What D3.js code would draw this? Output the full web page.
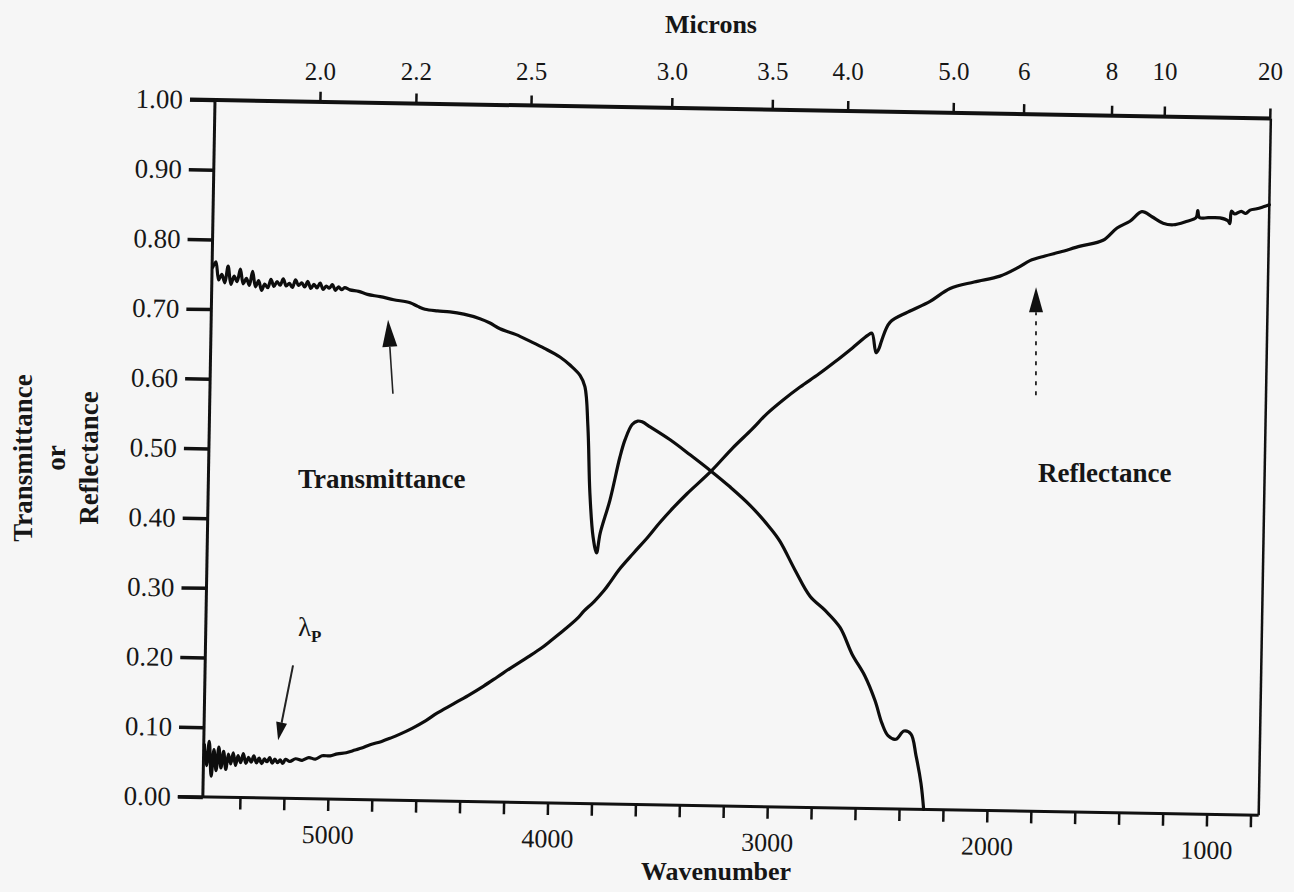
<!DOCTYPE html>
<html>
<head>
<meta charset="utf-8">
<script src="https://cdn.jsdelivr.net/npm/d3@7"></script>
<style>
  body { margin: 0; background: #f6f6f6; }
  text { font-family: "Liberation Serif", "DejaVu Serif", serif; fill: #161616; }
</style>
</head>
<body>
<div id="chart"></div>
<script>
(function () {

// ---- data ----
var yTicks = [0, 0.1, 0.2, 0.3, 0.4, 0.5, 0.6, 0.7, 0.8, 0.9, 1.0];
var wavenumberTicks = [5400, 5200, 5000, 4800, 4600, 4400, 4200, 4000, 3800, 3600, 3400, 3200,
                       3000, 2800, 2600, 2400, 2200, 2000, 1800, 1600, 1400, 1200, 1000, 800];
var wavenumberLabels = [5000, 4000, 3000, 2000, 1000];
var micronTicks = [2.0, 2.2, 2.5, 3.0, 3.5, 4.0, 5.0, 6, 8, 10, 20];
var micronLabels = ["2.0", "2.2", "2.5", "3.0", "3.5", "4.0", "5.0", "6", "8", "10", "20"];

// [wavenumber, value]
var transmittance = [
  [5566, 0.760], [5552, 0.768], [5538, 0.742], [5524, 0.750], [5510, 0.738], [5496, 0.762],
  [5482, 0.736], [5468, 0.748], [5454, 0.740], [5440, 0.758], [5426, 0.737], [5412, 0.745],
  [5398, 0.735], [5384, 0.755], [5370, 0.733], [5356, 0.742], [5342, 0.728], [5328, 0.737],
  [5314, 0.732], [5300, 0.744], [5286, 0.734], [5272, 0.741], [5258, 0.736], [5244, 0.745],
  [5230, 0.735], [5216, 0.739], [5202, 0.733], [5188, 0.744], [5174, 0.736], [5160, 0.740],
  [5146, 0.734], [5132, 0.742], [5118, 0.732], [5104, 0.738], [5090, 0.733], [5076, 0.740],
  [5062, 0.731], [5048, 0.736], [5034, 0.733], [5020, 0.738], [5006, 0.730], [4992, 0.735],
  [4978, 0.731], [4964, 0.734], [4940, 0.731], [4900, 0.729], [4860, 0.725], [4802, 0.722],
  [4740, 0.718], [4665, 0.714], [4630, 0.709], [4597, 0.705], [4540, 0.703], [4483, 0.702],
  [4420, 0.699], [4346, 0.693], [4300, 0.687], [4254, 0.679], [4180, 0.671], [4117, 0.662],
  [4050, 0.652], [3979, 0.640], [3930, 0.628], [3886, 0.614], [3863, 0.598], [3846, 0.540],
  [3832, 0.446], [3814, 0.383], [3797, 0.360], [3782, 0.388], [3740, 0.436], [3698, 0.498],
  [3676, 0.523], [3645, 0.545], [3620, 0.550], [3600, 0.549], [3563, 0.542], [3471, 0.524],
  [3379, 0.503], [3282, 0.480], [3195, 0.458], [3102, 0.432], [3009, 0.400], [2963, 0.381],
  [2892, 0.340], [2822, 0.303], [2752, 0.283], [2683, 0.259], [2626, 0.221], [2566, 0.190],
  [2518, 0.155], [2484, 0.122], [2456, 0.105], [2420, 0.100], [2384, 0.112], [2352, 0.108],
  [2327, 0.077], [2302, 0.037], [2288, 0.0]
];

var reflectance = [
  [5566, 0.075], [5555, 0.045], [5544, 0.080], [5533, 0.030], [5522, 0.068], [5511, 0.038],
  [5500, 0.072], [5489, 0.042], [5478, 0.066], [5467, 0.040], [5456, 0.062], [5445, 0.048],
  [5434, 0.064], [5423, 0.046], [5412, 0.060], [5400, 0.050], [5388, 0.063], [5376, 0.049],
  [5364, 0.058], [5352, 0.051], [5340, 0.060], [5328, 0.050], [5316, 0.057], [5304, 0.049],
  [5292, 0.056], [5280, 0.052], [5268, 0.058], [5256, 0.050], [5244, 0.056], [5232, 0.051],
  [5220, 0.055], [5208, 0.050], [5196, 0.056], [5176, 0.053], [5150, 0.057], [5120, 0.055],
  [5090, 0.059], [5060, 0.057], [5030, 0.062], [4993, 0.062], [4960, 0.065], [4920, 0.067],
  [4880, 0.071], [4850, 0.074], [4812, 0.079], [4760, 0.084], [4720, 0.089], [4677, 0.095],
  [4620, 0.104], [4560, 0.115], [4510, 0.126], [4440, 0.139], [4370, 0.152], [4300, 0.166],
  [4240, 0.179], [4172, 0.194], [4100, 0.209], [4040, 0.222], [3997, 0.233], [3940, 0.248],
  [3880, 0.265], [3850, 0.276], [3804, 0.290], [3760, 0.306], [3733, 0.318], [3694, 0.336],
  [3630, 0.360], [3564, 0.384], [3511, 0.405], [3450, 0.427], [3390, 0.447], [3282, 0.480],
  [3185, 0.514], [3100, 0.541], [3032, 0.564], [2960, 0.584], [2884, 0.603], [2800, 0.622],
  [2727, 0.640], [2650, 0.660], [2579, 0.679], [2561, 0.682], [2541, 0.654], [2528, 0.660],
  [2516, 0.672], [2480, 0.698], [2400, 0.713], [2299, 0.729], [2209, 0.748], [2100, 0.758],
  [1983, 0.767], [1900, 0.780], [1848, 0.790], [1780, 0.797], [1711, 0.803], [1620, 0.812],
  [1517, 0.821], [1454, 0.839], [1396, 0.849], [1342, 0.863], [1296, 0.856], [1245, 0.847],
  [1199, 0.845], [1140, 0.850], [1095, 0.856], [1088, 0.866], [1080, 0.856], [1040, 0.856],
  [987, 0.856], [950, 0.852], [941, 0.848], [935, 0.866], [920, 0.862], [890, 0.866],
  [870, 0.863], [850, 0.868], [820, 0.870], [790, 0.873], [763, 0.876]
];

// annotation arrows, [wavenumber, value] from tail to tip
var arrows = [
  {from: [4736, 0.583], to: [4764, 0.689], head: 27, width: 15, dash: null, w: 1.6},
  {from: [1810, 0.597], to: [1818, 0.752], head: 25, width: 14, dash: "4,6", w: 1.8},
  {from: [5169, 0.191], to: [5231, 0.083], head: 18, width: 11, dash: null, w: 2}
];

var width = 1294, height = 892;

// scanned page sits about one degree off square
var xScale = d3.scaleLinear().domain([5569, 763]).range([215, 1271]),
    topScale = d3.scaleLinear().domain([5497, 495]).range([215, 1271]),
    yScale = d3.scaleLinear().domain([0, 1]).range([797, 100]);

var svg = d3.select("#chart").append("svg")
    .attr("width", width)
    .attr("height", height);

svg.append("rect")
    .attr("width", width)
    .attr("height", height)
    .attr("fill", "#f6f6f6");

var plot = svg.append("g").attr("transform", "rotate(1,215,100)");

var x0 = xScale.range()[0], x1 = xScale.range()[1],
    yTop = yScale(1), yBot = yScale(0);

// frame
plot.append("line").attr("x1", x0 - 25).attr("x2", x1).attr("y1", yTop).attr("y2", yTop)
    .attr("stroke", "#111").attr("stroke-width", 4);
plot.append("line").attr("x1", x0 - 25).attr("x2", x1).attr("y1", yBot).attr("y2", yBot)
    .attr("stroke", "#111").attr("stroke-width", 3);
plot.append("line").attr("x1", x0).attr("x2", x0).attr("y1", yTop).attr("y2", yBot)
    .attr("stroke", "#111").attr("stroke-width", 3);
plot.append("line").attr("x1", x1).attr("x2", x1).attr("y1", yTop).attr("y2", yBot)
    .attr("stroke", "#111").attr("stroke-width", 2.5);

// y axis
var yAxis = plot.append("g")
    .attr("transform", "translate(" + x0 + ",0)")
    .call(d3.axisLeft(yScale).tickValues(yTicks).tickSize(25).tickPadding(7)
      .tickFormat(d3.format(".2f")));
yAxis.select(".domain").remove();
yAxis.selectAll("line").attr("stroke", "#111").attr("stroke-width", 3.5);
yAxis.selectAll("text").attr("font-size", 27).attr("font-family", "Liberation Serif").attr("fill", "#1c1c1c");

// top (microns) tick marks
var topTicks = plot.append("g")
    .attr("transform", "translate(0," + yTop + ")")
    .call(d3.axisTop(topScale).tickValues(micronTicks.map(function (m) { return 10000 / m; }))
      .tickSize(10).tickFormat(""));
topTicks.select(".domain").remove();
topTicks.selectAll("line").attr("stroke", "#111").attr("stroke-width", 2.5);

// top labels (typed level on the page)
var topLabels = svg.append("g")
    .attr("transform", "translate(0,80)")
    .call(d3.axisTop(topScale).tickValues(micronTicks.map(function (m) { return 10000 / m; }))
      .tickSize(0).tickPadding(0)
      .tickFormat(function (d, i) { return micronLabels[i]; }));
topLabels.select(".domain").remove();
topLabels.selectAll("line").remove();
topLabels.selectAll("text").attr("font-size", 25).attr("font-family", "Liberation Serif").attr("fill", "#2a2a2a");

// bottom axis
var xAxis = plot.append("g")
    .attr("transform", "translate(0," + yBot + ")")
    .call(d3.axisBottom(xScale).tickValues(wavenumberTicks).tickSize(12).tickPadding(14)
      .tickFormat(function (d) { return wavenumberLabels.indexOf(d) >= 0 ? d : ""; }));
xAxis.select(".domain").remove();
xAxis.selectAll("line").attr("stroke", "#111").attr("stroke-width", 2.5);
xAxis.selectAll("text").attr("font-size", 26).attr("font-family", "Liberation Serif").attr("fill", "#1c1c1c");

// curves
var line = d3.line()
    .x(function (d) { return xScale(d[0]); })
    .y(function (d) { return yScale(d[1]); })
    .curve(d3.curveCatmullRom.alpha(0.5));

plot.append("path").datum(transmittance)
    .attr("d", line).attr("fill", "none").attr("stroke", "#0d0d0d")
    .attr("stroke-width", 3.2).attr("stroke-linejoin", "round").attr("stroke-linecap", "round");

plot.append("path").datum(reflectance)
    .attr("d", line).attr("fill", "none").attr("stroke", "#0d0d0d")
    .attr("stroke-width", 3.2).attr("stroke-linejoin", "round").attr("stroke-linecap", "round");

// arrows
arrows.forEach(function (a) {
  var p0 = [xScale(a.from[0]), yScale(a.from[1])],
      p1 = [xScale(a.to[0]), yScale(a.to[1])],
      dx = p1[0] - p0[0], dy = p1[1] - p0[1],
      len = Math.sqrt(dx * dx + dy * dy),
      ux = dx / len, uy = dy / len,
      bx = p1[0] - ux * a.head, by = p1[1] - uy * a.head;

  plot.append("line")
      .attr("x1", p0[0]).attr("y1", p0[1]).attr("x2", bx).attr("y2", by)
      .attr("stroke", "#222").attr("stroke-width", a.w)
      .attr("stroke-dasharray", a.dash);

  plot.append("path")
      .attr("d", "M" + p1[0] + "," + p1[1] +
                 "L" + (bx - uy * a.width / 2) + "," + (by + ux * a.width / 2) +
                 "L" + (bx + uy * a.width / 2) + "," + (by - ux * a.width / 2) + "Z")
      .attr("fill", "#111");
});

// labels
svg.append("text").attr("x", 298).attr("y", 488)
    .attr("font-size", 27).attr("font-weight", "bold").text("Transmittance");
svg.append("text").attr("x", 1038).attr("y", 482)
    .attr("font-size", 27).attr("font-weight", "bold").text("Reflectance");

var lam = svg.append("text").attr("x", 298).attr("y", 636).attr("font-size", 27);
lam.append("tspan").text("λ");
lam.append("tspan").attr("dy", 6).attr("font-size", 17).attr("font-weight", "bold").text("P");

svg.append("text").attr("x", 711).attr("y", 33).attr("text-anchor", "middle")
    .attr("font-size", 26).attr("font-weight", "bold").text("Microns");

svg.append("text").attr("x", 716).attr("y", 880).attr("text-anchor", "middle")
    .attr("font-size", 26).attr("font-weight", "bold").text("Wavenumber");

var yTitle = [["Transmittance", 32], ["or", 65], ["Reflectance", 98]];
yTitle.forEach(function (t) {
  svg.append("text")
      .attr("transform", "translate(" + t[1] + ",458) rotate(-90)")
      .attr("text-anchor", "middle")
      .attr("font-size", 27).attr("font-weight", "bold")
      .text(t[0]);
});

})();
</script>
</body>
</html>
